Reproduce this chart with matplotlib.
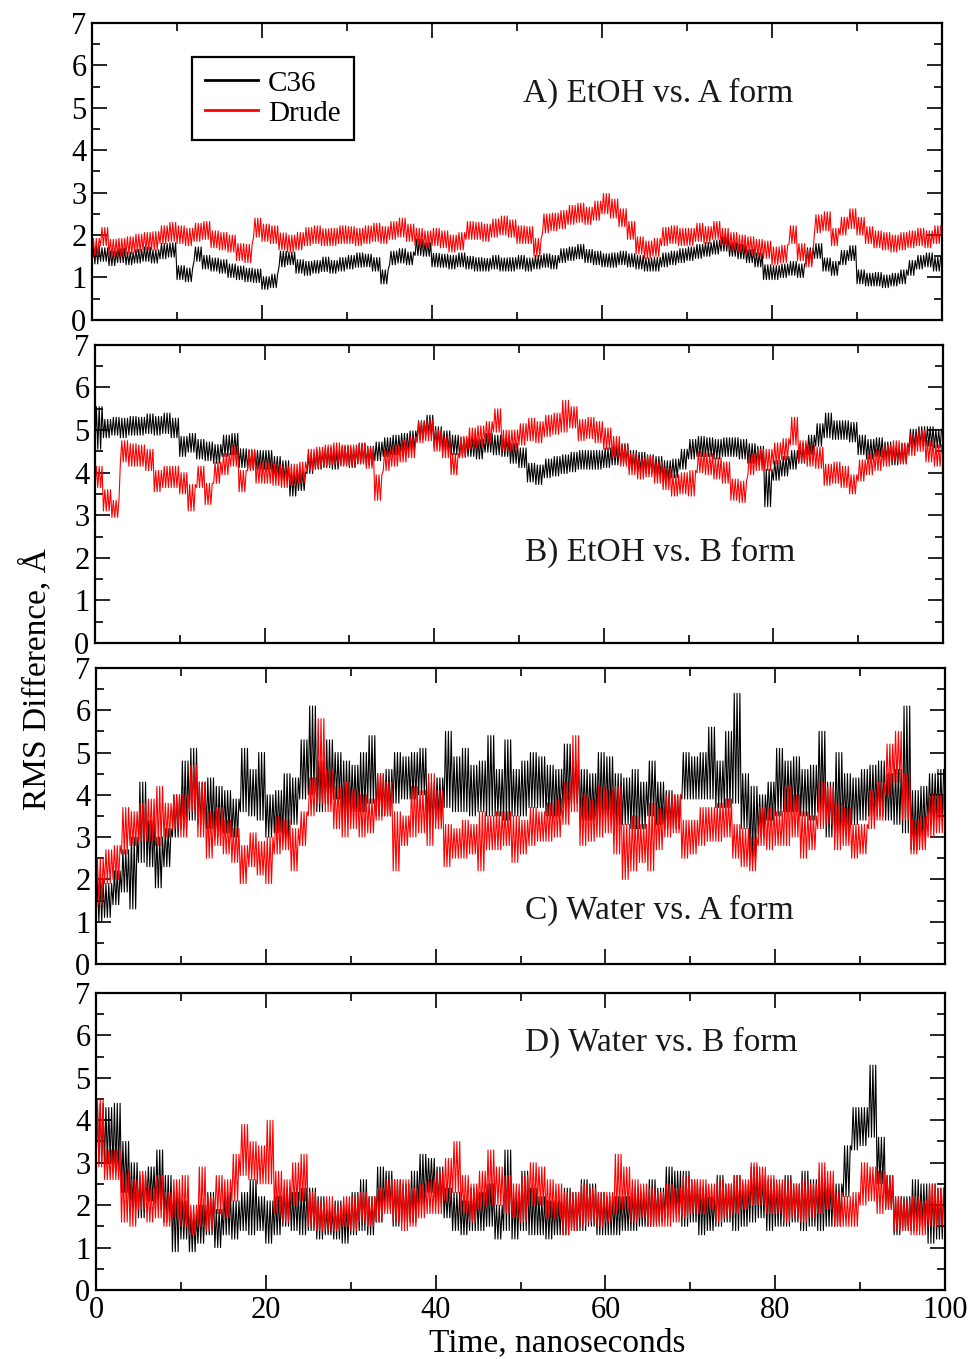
import numpy as np
import matplotlib
matplotlib.use("Agg")
import matplotlib.pyplot as plt
from matplotlib.ticker import MultipleLocator

# tempo em ns (um intervalo por ns: valor minimo e maximo)
time_ns = np.arange(100)

# ---- A) EtOH vs. A form
a_c36_lo = [1.32,1.38,1.28,1.35,1.30,1.34,1.38,1.34,1.44,1.48,
            0.95,0.90,1.38,1.20,1.15,1.10,1.00,0.95,0.90,0.88,
            0.72,0.76,1.25,1.30,1.10,1.05,1.10,1.14,1.10,1.15,
            1.20,1.24,1.25,1.15,0.85,1.30,1.34,1.30,1.52,1.50,
            1.25,1.24,1.20,1.25,1.20,1.15,1.15,1.20,1.15,1.15,
            1.20,1.15,1.20,1.24,1.20,1.35,1.40,1.44,1.35,1.30,
            1.25,1.24,1.30,1.25,1.20,1.15,1.15,1.25,1.30,1.35,
            1.40,1.45,1.50,1.55,1.62,1.50,1.44,1.35,1.25,0.95,
            0.95,1.00,1.05,1.00,1.34,1.45,1.15,1.05,1.30,1.40,
            0.85,0.80,0.80,0.76,0.80,0.85,1.05,1.20,1.25,1.15]
a_c36_hi = [1.75,1.70,1.62,1.68,1.60,1.66,1.72,1.65,1.80,1.82,
            1.28,1.22,1.72,1.52,1.46,1.42,1.32,1.27,1.22,1.20,
            1.02,1.08,1.62,1.60,1.42,1.38,1.40,1.48,1.40,1.47,
            1.52,1.58,1.55,1.47,1.18,1.62,1.68,1.60,1.90,1.82,
            1.57,1.55,1.52,1.58,1.50,1.47,1.45,1.52,1.46,1.47,
            1.52,1.46,1.52,1.56,1.52,1.68,1.72,1.78,1.66,1.62,
            1.56,1.58,1.62,1.56,1.52,1.46,1.48,1.58,1.62,1.68,
            1.72,1.78,1.82,1.88,1.98,1.82,1.78,1.66,1.58,1.30,
            1.28,1.32,1.38,1.32,1.70,1.80,1.46,1.38,1.64,1.75,
            1.18,1.10,1.12,1.06,1.10,1.18,1.40,1.52,1.58,1.48]
a_drude_lo = [1.50,1.75,1.50,1.50,1.55,1.60,1.65,1.65,1.80,1.85,
              1.80,1.75,1.85,1.90,1.70,1.65,1.60,1.40,1.35,1.95,
              1.85,1.80,1.65,1.60,1.65,1.75,1.80,1.75,1.75,1.80,
              1.80,1.75,1.80,1.85,1.80,1.90,1.95,1.85,1.75,1.70,
              1.75,1.70,1.60,1.65,1.90,1.90,1.85,1.95,2.00,1.95,
              1.80,1.80,1.50,2.05,2.10,2.15,2.25,2.30,2.25,2.35,
              2.50,2.40,2.20,1.90,1.55,1.45,1.50,1.75,1.80,1.75,
              1.75,1.85,1.80,1.90,1.75,1.65,1.60,1.55,1.50,1.45,
              1.30,1.35,1.80,1.40,1.25,2.05,2.10,1.75,2.00,2.15,
              2.00,1.80,1.70,1.65,1.60,1.65,1.70,1.75,1.70,1.80]
a_drude_hi = [1.92,2.18,1.90,1.92,1.96,2.02,2.06,2.08,2.22,2.30,
              2.22,2.16,2.28,2.32,2.10,2.06,2.00,1.80,1.78,2.40,
              2.26,2.22,2.05,2.00,2.06,2.18,2.22,2.15,2.16,2.22,
              2.20,2.16,2.22,2.28,2.20,2.32,2.40,2.26,2.16,2.10,
              2.16,2.10,2.00,2.06,2.32,2.30,2.26,2.38,2.45,2.36,
              2.22,2.20,1.92,2.50,2.52,2.58,2.70,2.75,2.66,2.80,
              2.98,2.85,2.62,2.32,1.96,1.86,1.92,2.18,2.22,2.16,
              2.16,2.28,2.20,2.32,2.16,2.06,2.00,1.96,1.90,1.86,
              1.72,1.76,2.22,1.80,1.66,2.48,2.55,2.16,2.42,2.62,
              2.42,2.20,2.10,2.06,2.00,2.06,2.10,2.16,2.10,2.22]

# ---- B) EtOH vs. B form
b_c36_lo = [4.55,4.82,4.88,4.82,4.88,4.88,4.92,4.88,4.92,4.82,
            4.38,4.48,4.32,4.28,4.22,4.38,4.42,4.12,4.08,4.08,
            4.08,3.92,3.82,3.45,3.58,3.98,4.08,4.12,4.08,4.18,
            4.12,4.22,4.18,4.28,4.38,4.42,4.48,4.52,4.78,4.88,
            4.62,4.52,4.42,4.38,4.38,4.32,4.48,4.42,4.38,4.22,
            4.12,3.78,3.72,3.88,3.92,3.98,4.02,4.08,4.08,4.08,
            4.12,4.18,4.22,4.08,4.02,3.98,3.92,3.82,3.88,4.08,
            4.32,4.38,4.38,4.32,4.38,4.38,4.32,4.22,4.18,3.20,
            3.82,3.92,4.08,4.22,4.42,4.62,4.82,4.78,4.78,4.72,
            4.42,4.32,4.38,4.28,4.18,4.22,4.58,4.62,4.62,4.58]
b_c36_hi = [5.55,5.25,5.30,5.28,5.32,5.30,5.38,5.32,5.40,5.28,
            4.85,4.92,4.78,4.72,4.66,4.88,4.92,4.56,4.52,4.52,
            4.52,4.38,4.28,4.00,4.02,4.42,4.52,4.58,4.52,4.62,
            4.58,4.68,4.62,4.72,4.82,4.88,4.92,4.98,5.22,5.35,
            5.08,4.98,4.88,4.82,4.82,4.78,4.92,4.88,4.82,4.68,
            4.58,4.22,4.18,4.32,4.38,4.42,4.48,4.52,4.52,4.52,
            4.58,4.62,4.68,4.52,4.48,4.42,4.38,4.28,4.32,4.55,
            4.78,4.85,4.82,4.78,4.82,4.82,4.78,4.68,4.62,4.08,
            4.28,4.38,4.52,4.68,4.88,5.15,5.40,5.22,5.22,5.18,
            4.88,4.78,4.82,4.72,4.62,4.68,5.02,5.08,5.08,5.02]
b_drude_lo = [3.65,3.10,2.95,4.25,4.15,4.15,4.05,3.55,3.65,3.65,
              3.50,3.10,3.65,3.25,3.75,3.95,4.15,3.55,4.05,3.75,
              3.75,3.70,3.65,3.70,3.75,4.05,4.10,4.15,4.20,4.15,
              4.15,4.20,4.10,3.35,4.05,4.15,4.25,4.35,4.70,4.75,
              4.50,4.35,3.95,4.35,4.55,4.60,4.70,4.95,4.50,4.50,
              4.65,4.75,4.70,4.85,4.90,4.95,5.05,4.75,4.80,4.70,
              4.55,4.35,4.15,3.95,3.85,3.90,3.75,3.60,3.45,3.50,
              3.45,4.00,3.95,3.85,3.75,3.35,3.30,3.95,4.05,4.05,
              4.20,4.30,4.65,4.25,4.15,4.10,3.70,3.75,3.65,3.50,
              3.80,3.95,4.05,4.15,4.25,4.20,4.40,4.50,4.25,4.15]
b_drude_hi = [4.15,3.60,3.35,4.75,4.68,4.65,4.55,4.05,4.15,4.15,
              4.00,3.72,4.15,3.75,4.25,4.45,4.62,4.05,4.55,4.25,
              4.25,4.20,4.15,4.20,4.25,4.55,4.60,4.65,4.70,4.65,
              4.65,4.70,4.60,3.95,4.55,4.65,4.75,4.85,5.20,5.25,
              5.00,4.85,4.45,4.85,5.05,5.10,5.20,5.50,5.00,5.00,
              5.15,5.28,5.20,5.35,5.40,5.70,5.55,5.25,5.30,5.20,
              5.05,4.85,4.65,4.45,4.35,4.40,4.25,4.10,3.95,4.00,
              4.05,4.50,4.45,4.35,4.25,3.85,3.80,4.45,4.55,4.55,
              4.70,4.80,5.30,4.75,4.65,4.60,4.20,4.25,4.15,3.95,
              4.30,4.45,4.55,4.65,4.75,4.70,4.90,5.00,4.75,4.65]

# ---- C) Water vs. A form
c_c36_lo = [1.0,1.1,1.4,1.7,1.3,2.4,2.3,1.8,2.3,3.0,
            3.2,3.4,3.3,3.2,3.0,3.1,3.0,3.6,3.5,3.4,
            3.0,3.1,3.0,3.3,3.9,4.0,3.6,3.8,3.9,3.5,
            3.6,3.6,3.8,3.5,3.5,3.8,3.9,3.9,4.0,3.3,
            3.4,3.7,3.6,3.6,3.5,3.6,3.5,3.5,3.4,3.5,
            3.5,3.7,3.7,3.5,3.5,3.7,3.8,3.4,3.4,3.5,
            3.5,3.3,3.3,3.2,3.2,3.5,3.3,3.2,3.2,3.9,
            3.9,3.9,3.9,3.7,3.7,3.8,3.2,2.5,3.0,3.4,
            3.5,3.6,3.6,3.5,3.4,3.6,3.0,3.1,3.2,3.3,
            3.4,3.5,3.5,3.4,3.3,3.1,2.7,3.0,3.4,3.4]
c_c36_hi = [2.0,1.9,2.2,2.7,3.0,4.3,3.4,3.0,3.2,4.0,
            4.8,5.1,4.3,4.4,4.2,4.1,3.9,5.1,4.6,5.0,
            4.0,4.1,4.5,4.4,5.3,6.1,4.8,5.3,5.0,4.8,
            4.7,5.0,5.4,4.5,4.6,5.0,4.9,5.0,5.1,4.3,
            4.4,5.5,4.9,5.1,4.7,4.8,5.4,4.6,5.3,4.6,
            4.8,5.0,4.9,4.7,4.6,5.2,4.8,4.6,4.5,5.0,
            4.9,4.5,4.4,4.6,4.3,4.8,4.3,4.1,4.0,5.0,
            4.9,5.0,5.6,4.8,5.5,6.4,4.5,4.2,4.0,4.3,
            5.1,4.8,4.9,4.6,4.7,5.5,4.3,5.0,4.5,4.4,
            4.6,4.7,4.8,4.5,4.6,6.1,4.1,4.2,4.5,4.6]
c_drude_lo = [1.4,1.9,2.0,2.6,2.8,2.9,2.9,2.8,3.0,3.2,
              3.0,3.6,3.0,2.5,2.8,2.6,2.4,1.9,2.3,2.1,
              1.9,2.6,2.7,2.2,2.8,3.5,3.8,3.6,3.2,3.0,
              3.2,3.0,3.1,3.4,3.5,2.2,2.8,3.0,3.1,2.8,
              3.2,2.3,2.5,2.5,2.6,2.2,2.7,2.7,2.8,2.4,
              2.6,2.8,2.9,2.9,3.0,3.3,3.6,2.8,2.9,3.0,
              3.1,2.6,2.0,2.2,2.4,2.2,2.7,3.0,3.1,2.5,
              2.6,2.8,2.9,2.9,3.0,2.5,2.3,2.2,2.8,2.7,
              2.8,2.8,3.0,2.5,2.7,3.2,3.3,2.7,2.8,2.5,
              2.6,3.2,3.4,4.0,4.3,3.4,2.6,2.7,3.0,3.1]
c_drude_hi = [2.5,2.7,2.8,3.7,3.6,3.8,3.9,4.2,3.8,4.0,
              4.0,4.7,4.3,3.6,3.7,3.4,3.2,2.8,3.1,2.9,
              3.0,3.5,3.4,3.2,3.6,4.4,5.8,4.6,4.2,4.3,
              4.1,4.0,3.9,4.5,4.3,3.6,3.5,4.2,4.1,4.5,
              4.1,3.3,3.2,3.4,3.3,3.6,3.5,3.6,3.6,3.5,
              3.4,3.7,3.6,3.8,3.9,4.3,5.4,4.0,3.9,4.2,
              4.1,4.2,3.3,3.5,3.3,3.8,3.7,4.0,4.0,3.4,
              3.4,3.7,3.7,3.8,3.9,3.3,3.2,3.0,3.7,3.7,
              3.6,4.2,4.0,3.6,3.5,4.3,4.2,3.8,3.7,3.3,
              3.3,4.1,4.3,5.2,5.5,4.5,3.4,3.5,4.0,4.0]

# ---- D) Water vs. B form
d_c36_lo = [3.0,3.0,2.8,2.3,1.9,1.7,2.1,1.9,1.6,0.9,
            1.2,0.9,1.1,1.3,1.0,1.3,1.2,1.4,1.3,1.4,
            1.1,1.3,1.5,1.4,1.3,1.4,1.2,1.3,1.2,1.1,
            1.3,1.4,1.3,1.6,1.9,1.5,1.6,1.6,2.0,2.3,
            2.0,1.7,1.4,1.3,1.4,1.4,1.5,1.2,1.4,1.2,
            1.4,1.3,1.3,1.2,1.3,1.3,1.4,1.4,1.5,1.3,
            1.3,1.3,1.4,1.4,1.5,1.5,1.6,1.7,1.8,1.5,
            1.6,1.3,1.4,1.5,1.6,1.4,1.5,1.6,1.7,1.4,
            1.5,1.5,1.6,1.4,1.5,1.4,1.5,1.5,2.2,3.3,
            3.4,3.6,2.5,1.9,1.3,1.4,1.4,1.5,1.1,1.2]
d_c36_hi = [4.4,4.3,4.4,3.5,3.0,2.7,2.9,3.3,2.7,2.3,
            2.1,1.8,2.0,2.3,1.9,2.3,2.1,2.3,2.6,2.2,
            2.1,2.2,2.4,2.3,2.4,2.4,2.2,1.9,2.1,2.0,
            2.3,2.6,2.2,2.9,2.8,2.6,2.5,2.8,3.2,3.1,
            2.9,2.4,2.3,2.1,2.4,2.3,2.5,2.0,3.3,2.3,
            2.8,2.4,2.2,2.1,2.1,2.4,2.3,2.6,2.5,2.3,
            2.2,2.2,2.2,2.4,2.3,2.6,2.4,2.9,2.8,2.8,
            2.6,2.4,2.2,2.7,2.5,2.7,2.5,2.9,2.7,2.6,
            2.5,2.7,2.5,2.8,2.6,2.6,2.5,2.5,3.4,4.3,
            4.3,5.3,3.6,2.7,2.2,2.2,2.6,2.5,2.5,2.4]
d_drude_lo = [2.9,2.6,2.6,1.6,1.5,1.9,1.6,1.7,1.5,1.7,
              1.5,1.3,1.5,1.4,1.8,1.7,2.1,2.7,2.6,2.5,
              2.5,1.8,1.6,2.0,2.1,1.5,1.4,1.4,1.4,1.5,
              1.4,1.6,1.5,1.6,1.8,1.6,1.4,1.5,1.7,1.8,
              1.8,2.1,2.3,1.8,1.6,1.9,2.0,2.0,1.8,1.7,
              1.6,2.0,2.0,1.7,1.7,1.3,1.4,1.5,1.6,1.5,
              1.6,1.8,1.9,1.6,1.7,1.5,1.5,1.5,1.6,1.7,
              1.8,1.8,1.9,1.6,1.7,1.8,1.9,2.0,2.0,1.8,
              1.8,1.6,1.7,1.6,1.7,1.8,1.9,1.5,1.5,1.5,
              2.0,2.1,1.8,1.9,1.4,1.4,1.3,1.3,1.5,1.5]
d_drude_hi = [4.5,3.3,3.3,2.8,2.6,2.8,2.4,2.7,2.3,2.6,
              2.7,2.0,2.9,2.2,2.7,2.6,3.2,3.9,3.5,3.4,
              4.0,2.8,2.6,3.0,3.2,2.3,2.1,2.2,2.0,2.2,
              2.2,2.3,2.2,2.4,2.6,2.6,2.6,2.4,2.5,2.6,
              2.8,3.1,3.5,2.7,2.5,2.8,3.3,2.9,2.7,2.5,
              2.7,3.0,2.9,2.6,2.5,2.3,2.3,2.5,2.4,2.3,
              2.3,3.2,2.9,2.6,2.5,2.4,2.3,2.5,2.4,2.7,
              2.6,2.6,2.5,2.6,2.5,2.7,2.6,3.0,2.9,2.7,
              2.6,2.6,2.5,2.6,2.5,3.0,2.8,2.3,2.2,2.3,
              3.0,2.9,2.8,2.7,2.2,2.1,2.2,2.1,2.5,2.4]

panel_titles = ["A) EtOH vs. A form", "B) EtOH vs. B form",
                "C) Water vs. A form", "D) Water vs. B form"]
series_names = ["C36", "Drude"]


def zigzag(lo, hi, k=3):
    # traço denso: oscila k vezes entre minimo e maximo lidos em cada ns
    offs = np.arange(2 * k) / (2 * k)
    t = (time_ns[:, None] + offs[None, :]).ravel()
    y = np.column_stack([lo, hi] * k).ravel()
    return t, y


plt.rcParams['font.family'] = ['Liberation Serif', 'DejaVu Serif']

fig = plt.figure(figsize=(9.73, 13.59), dpi=100)

# posicoes dos paineis (a figura original nao e perfeitamente alinhada)
rects = [(0.0946, 0.7646, 0.8736, 0.2185),
         (0.0976, 0.5269, 0.8715, 0.2193),
         (0.0987, 0.2907, 0.8726, 0.2178),
         (0.0987, 0.0508, 0.8726, 0.2185)]
title_pos = [(0.507, 0.764), (0.507, 0.305), (0.505, 0.182), (0.505, 0.835)]

data = [(a_c36_lo, a_c36_hi, a_drude_lo, a_drude_hi),
        (b_c36_lo, b_c36_hi, b_drude_lo, b_drude_hi),
        (c_c36_lo, c_c36_hi, c_drude_lo, c_drude_hi),
        (d_c36_lo, d_c36_hi, d_drude_lo, d_drude_hi)]

axes = []
for i, (c_lo, c_hi, d_lo, d_hi) in enumerate(data):
    ax = fig.add_axes(rects[i])
    axes.append(ax)

    t, y = zigzag(c_lo, c_hi)
    ax.plot(t, y, color='black', lw=0.8, label=series_names[0])
    t, y = zigzag(d_lo, d_hi)
    ax.plot(t, y, color='#ff0000', lw=0.8, label=series_names[1])

    ax.set_xlim(0, 100)
    ax.set_ylim(0, 7)
    ax.xaxis.set_major_locator(MultipleLocator(20))
    ax.xaxis.set_minor_locator(MultipleLocator(10))
    ax.yaxis.set_major_locator(MultipleLocator(1))
    ax.yaxis.set_minor_locator(MultipleLocator(0.5))
    ax.tick_params(which='both', direction='in', top=True, right=True,
                   width=1.2, labelsize=22, pad=4)
    ax.tick_params(which='major', length=11)
    ax.tick_params(which='minor', length=6)
    for s in ax.spines.values():
        s.set_linewidth(1.6)
    if i < 3:
        ax.tick_params(labelbottom=False)

    ax.text(title_pos[i][0], title_pos[i][1], panel_titles[i],
            transform=ax.transAxes, fontsize=24, ha='left', va='center',
            color='#1a1a1a')

leg = axes[0].legend(loc='upper left', bbox_to_anchor=(0.118, 0.885),
                     borderaxespad=0, fontsize=21, handlelength=1.8,
                     handletextpad=0.35, labelspacing=0.12, borderpad=0.45,
                     fancybox=False, framealpha=1, edgecolor='black')
leg.get_frame().set_linewidth(1.6)
for line in leg.get_lines():
    line.set_linewidth(2.0)

axes[3].set_xlabel("Time, nanoseconds", fontsize=24)
axes[3].xaxis.set_label_coords(0.543, -0.128)

fig.text(0.037, 0.50, "RMS Difference, Å", rotation=90, fontsize=24,
         ha='center', va='center')

fig.savefig("out.png", dpi=100)
